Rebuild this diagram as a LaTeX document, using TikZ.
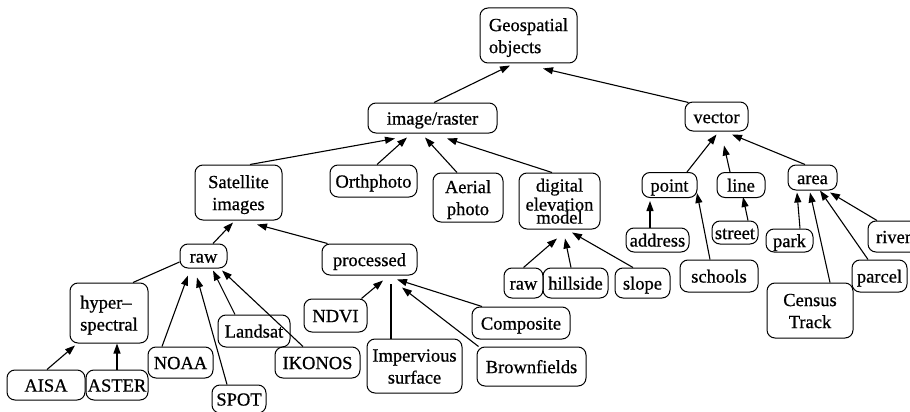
\documentclass[tikz,border=0pt]{standalone}
\usepackage{fontspec}
\setmainfont{Liberation Serif}[BoldFont={Liberation Serif},BoldFeatures={FakeBold=0.7}]
\usetikzlibrary{arrows.meta}
\newcommand\boxtxt[2][c]{\smash{\makebox[0pt]{\raisebox{-6.5pt}{\begin{tabular}{@{}#1@{}}#2\end{tabular}}}}}
\begin{document}
\begin{tikzpicture}[x=1pt,y=-1pt,
  obj/.style={draw, rounded corners=8pt, line width=1pt, inner sep=0pt, font=\fontsize{18.5}{22}\selectfont\bfseries},
  lnk/.style={line width=1.1pt, -{Triangle[length=10pt,width=7pt]}},
  plainlnk/.style={line width=1.1pt}]
\useasboundingbox (0,0) rectangle (910,412);
% level 0-1
\node[obj, minimum width=97pt, minimum height=55pt] (geo) at (528.5,35.5) {\boxtxt[l]{Geospatial\\objects}};
\node[obj, minimum width=129pt, minimum height=30pt] (img) at (432.5,118) {\boxtxt{image/raster}};
\node[obj, minimum width=63pt, minimum height=29pt] (vec) at (716.5,116.5) {\boxtxt{vector}};
% level 2
\node[obj, minimum width=87pt, minimum height=55pt] (sat) at (238.5,192.5) {\boxtxt{Satellite\\images}};
\node[obj, minimum width=87pt, minimum height=32pt] (orth) at (373.5,181) {\boxtxt{Orthphoto}};
\node[obj, minimum width=70pt, minimum height=49pt] (aer) at (468,197.5) {\boxtxt{Aerial\\photo}};
\node[obj, minimum width=81pt, minimum height=56pt] (dem) at (559.5,201) {\boxtxt{digital\\[-3pt]elevation\\[-9pt]model}};
\node[obj, minimum width=55pt, minimum height=25pt] (pnt) at (669.5,185) {\boxtxt{point}};
\node[obj, minimum width=48pt, minimum height=25pt] (lin) at (741,185) {\boxtxt{line}};
\node[obj, minimum width=49pt, minimum height=25pt] (area) at (812.5,177.5) {\boxtxt{area}};
% level 3
\node[obj, minimum width=47pt, minimum height=24pt] (raw1) at (203.5,256) {\boxtxt{raw}};
\node[obj, minimum width=95pt, minimum height=31pt] (proc) at (369.5,259.5) {\boxtxt{processed}};
\node[obj, minimum width=39pt, minimum height=30pt] (raw2) at (523.5,283) {\boxtxt{raw}};
\node[obj, minimum width=65pt, minimum height=30pt] (hill) at (575.5,283) {\boxtxt{hillside}};
\node[obj, minimum width=55pt, minimum height=30pt] (slope) at (642.5,283) {\boxtxt{slope}};
\node[obj, minimum width=63pt, minimum height=24pt] (addr) at (657.5,240) {\boxtxt{address}};
\node[obj, minimum width=78pt, minimum height=32pt] (sch) at (719,276) {\boxtxt{schools}};
\node[obj, minimum width=46pt, minimum height=23pt] (str) at (735,232.5) {\boxtxt{street}};
\node[obj, minimum width=47pt, minimum height=23pt] (park) at (789.5,240.5) {\boxtxt{park}};
\node[obj, minimum width=86pt, minimum height=55pt] (cens) at (810,310.5) {\boxtxt{Census\\Track}};
\node[obj, minimum width=55pt, minimum height=32pt] (parc) at (879.5,276) {\boxtxt{parcel}};
\node[obj, minimum width=51pt, minimum height=31pt] (riv) at (893.5,236.5) {\boxtxt{river}};
% level 4
\node[obj, minimum width=78pt, minimum height=60pt] (hyp) at (109,313) {\boxtxt[l]{hyper--\\spectral}};
\node[obj, minimum width=72pt, minimum height=32pt] (land) at (254,331) {\boxtxt{Landsat}};
\node[obj, minimum width=65pt, minimum height=31pt] (noaa) at (180.5,362.5) {\boxtxt{NOAA}};
\node[obj, minimum width=85pt, minimum height=31pt] (ikon) at (317.5,362.5) {\boxtxt{IKONOS}};
\node[obj, minimum width=54pt, minimum height=28pt] (spot) at (239,399) {\boxtxt{SPOT}};
\node[obj, minimum width=78pt, minimum height=30pt] (aisa) at (46,385) {\boxtxt{AISA}};
\node[obj, minimum width=62pt, minimum height=30pt] (aster) at (117,385) {\boxtxt{ASTER}};
\node[obj, minimum width=63pt, minimum height=33pt] (ndvi) at (335.5,315.5) {\boxtxt{NDVI}};
\node[obj, minimum width=95pt, minimum height=54pt] (imp) at (414.5,366) {\boxtxt{Impervious\\surface}};
\node[obj, minimum width=109pt, minimum height=39pt] (brown) at (531.5,366.5) {\boxtxt{Brownfields}};
\node[obj, minimum width=98pt, minimum height=32pt] (comp) at (521,323) {\boxtxt{Composite}};
% edges
\draw[lnk] ([xshift=1.5pt]img.north) -- ([xshift=-18.5pt,yshift=-2pt]geo.south);
\draw[lnk] ([xshift=4pt,yshift=-1pt]vec.north west) -- ([xshift=14.5pt,yshift=-5pt]geo.south);
\draw[lnk] ([xshift=11.5pt]sat.north) -- ([xshift=-37.5pt,yshift=-5pt]img.south);
\draw[lnk] ([xshift=3.5pt]orth.north) -- ([xshift=-25.5pt,yshift=-4pt]img.south);
\draw[lnk] ([xshift=-11pt]aer.north) -- ([xshift=-7.5pt,yshift=-4pt]img.south);
\draw[lnk] ([xshift=-7.5pt]dem.north) -- ([xshift=14.5pt,yshift=-5pt]img.south);
\draw[lnk] ([xshift=17.5pt]pnt.north) -- ([yshift=-3pt]vec.south);
\draw[lnk] ([xshift=-11pt]lin.north) -- ([xshift=7.5pt,yshift=-14pt]vec.south);
\draw[lnk] ([xshift=-7.5pt]area.north) -- ([xshift=15.5pt,yshift=-3pt]vec.south);
\draw[lnk] ([xshift=9.5pt]raw1.north) -- ([xshift=-5.5pt,yshift=-2pt]sat.south);
\draw[lnk] ([xshift=6pt]proc.north west) -- ([xshift=18.5pt,yshift=-4pt]sat.south);
\draw[plainlnk] ([xshift=24pt]hyp.north) -- ([yshift=-6pt]raw1.west);
\draw[lnk] ([xshift=-18.5pt]noaa.north) -- ([xshift=-15.5pt,yshift=-7pt]raw1.south);
\draw[lnk] ([xshift=-12pt]spot.north) -- ([xshift=-6.5pt,yshift=-9pt]raw1.south);
\draw[lnk] ([xshift=-19pt]land.north) -- ([xshift=9.5pt,yshift=-2pt]raw1.south);
\draw[lnk] ([xshift=-14.5pt]ikon.north) -- ([xshift=18.5pt,yshift=-2pt]raw1.south);
\draw[lnk] ([xshift=1pt]aisa.north) -- ([xshift=-34pt,yshift=-2pt]hyp.south);
\draw[lnk] (aster.north) -- ([xshift=8pt]hyp.south);
\draw[lnk] ([xshift=26pt]ndvi.north) -- ([xshift=13.5pt,yshift=-5pt]proc.south);
\draw[plainlnk] ([xshift=-23.5pt]imp.north) -- ([xshift=21.5pt,yshift=-8pt]proc.south);
\draw[lnk] ([xshift=2pt]brown.north west) -- ([xshift=32.5pt,yshift=-12pt]proc.south);
\draw[lnk] ([xshift=-39pt]comp.north) -- ([xshift=27.5pt,yshift=-4pt]proc.south);
\draw[lnk] (raw2.north) -- ([xshift=-2.5pt,yshift=-9pt]dem.south);
\draw[lnk] ([xshift=-4.5pt]hill.north) -- ([xshift=5.5pt,yshift=-9pt]dem.south);
\draw[lnk] ([xshift=-9.5pt]slope.north) -- ([xshift=12.5pt,yshift=-3pt]dem.south);
\draw[lnk] ([xshift=-7.5pt]addr.north) -- ([xshift=-19.5pt,yshift=-3pt]pnt.south);
\draw[lnk] ([xshift=-9pt]sch.north) -- ([xshift=27.5pt,yshift=5pt]pnt.south);
\draw[lnk] ([xshift=13pt]str.north) -- ([xshift=2pt,yshift=1pt]lin.south);
\draw[lnk] ([xshift=10.5pt]park.north) -- ([xshift=-15.5pt,yshift=-2pt]area.south);
\draw[lnk] ([xshift=20pt]cens.north) -- ([xshift=-2.5pt,yshift=-2pt]area.south);
\draw[lnk] ([xshift=-11.5pt]parc.north) -- ([xshift=7.5pt]area.south);
\draw[lnk] ([xshift=-16.5pt]riv.north) -- ([xshift=17.5pt,yshift=-2pt]area.south);
\end{tikzpicture}
\end{document}
